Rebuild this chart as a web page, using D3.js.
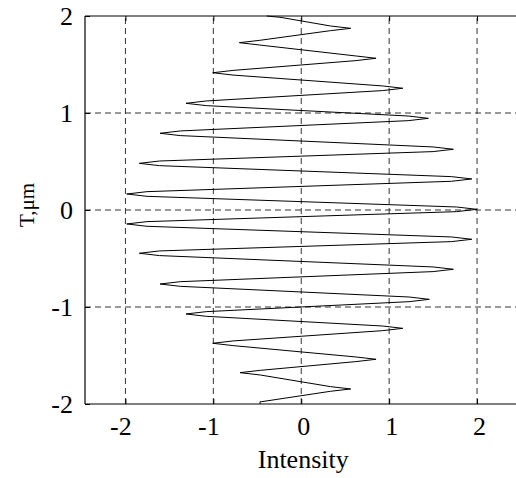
<!DOCTYPE html>
<html>
<head>
<meta charset="utf-8">
<script src="https://cdn.jsdelivr.net/npm/d3@7"></script>
<style>
  html, body { margin: 0; padding: 0; background: #fff; }
  svg { display: block; }
  text { font-family: "Liberation Serif", "Times New Roman", serif; fill: #000; }
</style>
</head>
<body>
<div id="chart"></div>
<script>
// ---- data ----
const xTicks = [-2, -1, 0, 1, 2];
const yTicks = [-2, -1, 0, 1, 2];
const xGrid = [-2, -1, 0, 1, 2];
const yGrid = [-1, 0, 1];
const xLabel = "Intensity";
const yLabel = "T,\u03bcm";
// trace points (Intensity, T), from top to bottom:
// each turning point with the points just before and after it
const curveX = [
  -0.392, -0.241,
   0.333,  0.563,  0.333,
  -0.474, -0.704, -0.474,
   0.621,  0.851,  0.621,
  -0.777, -1.007, -0.777,
   0.925,  1.155,  0.925,
  -1.081, -1.311, -1.081,
   1.216,  1.446,  1.216,
  -1.376, -1.606, -1.376,
   1.500,  1.730,  1.500,
  -1.612, -1.842, -1.612,
   1.710,  1.940,  1.710,
  -1.755, -1.985, -1.755,
   1.767,  1.997,  1.767,
  -1.755, -1.985, -1.755,
   1.710,  1.940,  1.710,
  -1.612, -1.842, -1.612,
   1.500,  1.730,  1.500,
  -1.376, -1.606, -1.376,
   1.227,  1.457,  1.227,
  -1.081, -1.311, -1.081,
   0.925,  1.155,  0.925,
  -0.777, -1.007, -0.777,
   0.621,  0.851,  0.621,
  -0.466, -0.696, -0.466,
   0.333,  0.563,  0.333,
  -0.450, -0.469, -0.469
];
const curveY = [
   2.000,  1.987,
   1.897,  1.873,  1.849,
   1.749,  1.725,  1.701,
   1.588,  1.564,  1.540,
   1.439,  1.415,  1.391,
   1.279,  1.255,  1.231,
   1.124,  1.100,  1.076,
   0.969,  0.945,  0.921,
   0.815,  0.791,  0.767,
   0.650,  0.626,  0.602,
   0.505,  0.481,  0.457,
   0.344,  0.320,  0.296,
   0.189,  0.165,  0.141,
   0.031,  0.007, -0.017,
  -0.120, -0.144, -0.168,
  -0.278, -0.302, -0.326,
  -0.422, -0.446, -0.470,
  -0.587, -0.611, -0.635,
  -0.739, -0.763, -0.787,
  -0.897, -0.921, -0.945,
  -1.048, -1.072, -1.096,
  -1.196, -1.220, -1.244,
  -1.350, -1.374, -1.398,
  -1.515, -1.539, -1.563,
  -1.653, -1.677, -1.701,
  -1.821, -1.845, -1.869,
  -1.976, -1.976, -2.000
];

// ---- layout ----
const W = 516, H = 478;
const svg = d3.select("#chart").append("svg").attr("width", W).attr("height", H);

const x = d3.scaleLinear().domain([-2.46, 2.5]).range([85, 521]);
const y = d3.scaleLinear().domain([-2, 2]).range([404, 16]);

const plot = svg.append("g");

// grid
plot.selectAll("line.gx").data(xGrid).enter().append("line")
  .attr("x1", d => x(d)).attr("x2", d => x(d))
  .attr("y1", y(-2)).attr("y2", y(2))
  .attr("stroke", "#333").attr("stroke-width", 1).attr("stroke-dasharray", "6,4");
plot.selectAll("line.gy").data(yGrid).enter().append("line")
  .attr("x1", x(-2.46)).attr("x2", W)
  .attr("y1", d => y(d)).attr("y2", d => y(d))
  .attr("stroke", "#333").attr("stroke-width", 1).attr("stroke-dasharray", "6,4");

// curve
const pts = curveX.map((v, i) => [v, curveY[i]]);
plot.append("path")
  .datum(pts)
  .attr("d", d3.line().x(d => x(d[0])).y(d => y(d[1])))
  .attr("fill", "none").attr("stroke", "#000").attr("stroke-width", 1);

// frame
plot.append("line").attr("x1", 85).attr("x2", W).attr("y1", y(2)).attr("y2", y(2))
  .attr("stroke", "#000").attr("stroke-width", 1.2);
plot.append("line").attr("x1", 85).attr("x2", W).attr("y1", y(-2)).attr("y2", y(-2))
  .attr("stroke", "#000").attr("stroke-width", 1.2);
plot.append("line").attr("x1", 85).attr("x2", 85).attr("y1", y(2)).attr("y2", y(-2))
  .attr("stroke", "#000").attr("stroke-width", 1.2);

// axes (inward ticks)
const xAxis = d3.axisBottom(x).tickValues(xTicks).tickSize(-5).tickPadding(13)
  .tickFormat(d3.format("d"));
const gx = svg.append("g").attr("transform", `translate(0,${y(-2)})`).call(xAxis);
gx.select(".domain").remove();
gx.selectAll(".tick line").attr("stroke", "#000");
gx.selectAll(".tick text").attr("font-size", 26).attr("font-family", "Liberation Serif")
  .attr("dx", d => d < 0 ? -5 : 2).text(d => d < 0 ? "-" + Math.abs(d) : d);

const gxTop = svg.append("g").attr("transform", `translate(0,${y(2)})`)
  .call(d3.axisTop(x).tickValues(xTicks).tickSize(-5).tickFormat(""));
gxTop.select(".domain").remove();
gxTop.selectAll(".tick line").attr("stroke", "#000");

const yAxis = d3.axisLeft(y).tickValues(yTicks).tickSize(-5).tickPadding(12)
  .tickFormat(d3.format("d"));
const gy = svg.append("g").attr("transform", `translate(85,0)`).call(yAxis);
gy.select(".domain").remove();
gy.selectAll(".tick line").attr("stroke", "#000");
gy.selectAll(".tick text").attr("font-size", 26).attr("font-family", "Liberation Serif")
  .text(d => d < 0 ? "-" + Math.abs(d) : d);

// labels
svg.append("text").attr("x", x(0) + 2).attr("y", 468)
  .attr("text-anchor", "middle").attr("font-size", 26).text(xLabel);
svg.append("text").attr("transform", `translate(34,${y(0) - 5}) rotate(-90)`)
  .attr("text-anchor", "middle").attr("font-size", 21).text(yLabel);
</script>
</body>
</html>
